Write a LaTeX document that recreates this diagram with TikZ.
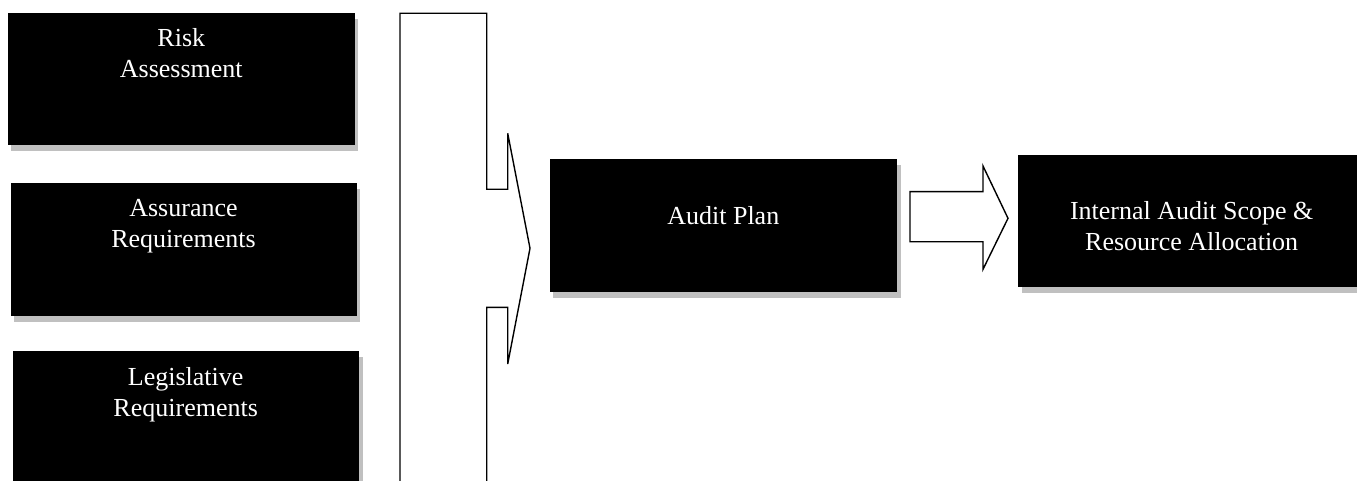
\documentclass[tikz,border=0pt]{standalone}
\usepackage{fontspec}
\setmainfont{Liberation Serif}
\usetikzlibrary{shadows}
\definecolor{shadowgray}{RGB}{192,192,192}
\begin{document}
\begin{tikzpicture}[x=1pt,y=-1pt,
  blackbox/.style={fill=black, draw=none, inner sep=0pt, anchor=north west,
    drop shadow={shadow xshift=3.3pt, shadow yshift=-5.7pt, fill=shadowgray, opacity=1}},
  boxtext/.style={text=white, align=center, inner sep=0pt, anchor=base,
    font=\fontsize{26}{31}\selectfont},
  outline/.style={draw=black, line width=1.4pt, fill=white, line join=miter}]
\useasboundingbox (0,0) rectangle (1357,481);
\clip (0,0) rectangle (1357,481);
% left boxes
\node[blackbox, minimum width=346.8pt, minimum height=132pt] (b1) at (7.9,13.3) {};
\node[blackbox, minimum width=346.4pt, minimum height=132.7pt] (b2) at (10.3,183.3) {};
\node[blackbox, minimum width=346.6pt, minimum height=140pt] (b3) at (12.4,350.9) {};
% (base anchor of a two-line node = baseline of its last line)
\node[boxtext] (t1) at (181.3,77.5) {Risk\\Assessment};
\node[boxtext] (t2) at (183.5,247.7) {Assurance\\Requirements};
\node[boxtext] (t3) at (185.7,416.1) {Legislative\\Requirements};
% audit plan and right box
\node[blackbox, minimum width=347.6pt, minimum height=132.7pt] (ap) at (549.4,159) {};
\node[boxtext] (tap) at (723.3,224.3) {Audit Plan};
\node[blackbox, minimum width=347pt, minimum height=131.7pt] (ia) at (1018,155) {};
\node[boxtext] (tia) at (1191.7,250) {Internal Audit Scope \&\\Resource Allocation};
% big bracket arrow
\draw[outline] (400,500) -- (400,13.3) -- (486.7,13.3) -- (486.7,189.3) -- (507.7,189.3)
  -- (507.7,133.3) -- (530,248.3) -- (507.7,364) -- (507.7,307.3) -- (486.7,307.3) -- (486.7,500);
% block arrow
\draw[outline] (910,191.7) -- (983,191.7) -- (983,166) -- (1008,218.3) -- (983,269.3)
  -- (983,241.7) -- (910,241.7) -- cycle;
\end{tikzpicture}
\end{document}
